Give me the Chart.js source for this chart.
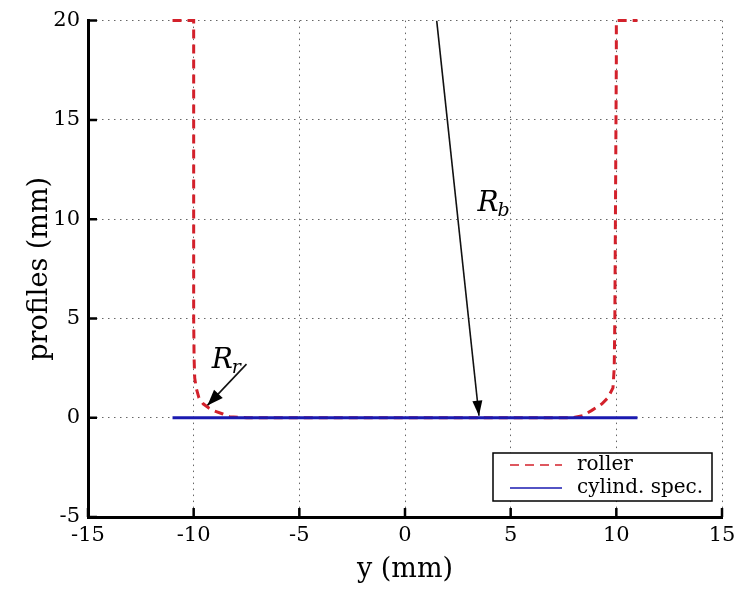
<!DOCTYPE html>
<html>
<head>
<meta charset="utf-8">
<style>
  html, body { margin: 0; padding: 0; background: #fff; }
  #wrap { width: 739px; height: 594px; }
</style>
<script src="https://cdn.jsdelivr.net/npm/chart.js@4/dist/chart.umd.min.js"></script>
</head>
<body>
<div id="wrap"><canvas id="c" width="739" height="594"></canvas></div>
<script>
// Roller profile (mm): lateral position y and profile height
const rollerY = [-11, -10, -10, -9.98, -9.95, -9.88, -9.75, -9.55, -9.3, -9.0, -8.65, -8.3, -7.5, 0, 7.5, 7.9, 8.4, 8.84, 9.32, 9.6, 9.84, 9.9, 9.93, 10, 10, 11];
const rollerP = [20, 20, 5, 3, 2, 1.5, 1.0, 0.7, 0.5, 0.33, 0.2, 0.05, 0, 0, 0, 0, 0.1, 0.37, 0.7, 1.0, 1.5, 2.5, 5, 18, 20, 20];

// Cylindrical specimen profile (mm)
const cylY = [-11, 11];
const cylP = [0, 0];

// Radius indicators: start and tip of each arrow, in data units
const arrowRbY = [1.5, 3.5];
const arrowRbP = [20, 0.1];
const arrowRrY = [-7.5, -9.35];
const arrowRrP = [2.7, 0.62];

// Radius labels: [main letter, subscript, y, profile]
const radiusLabels = [
  ['R', 'b', 3.43, 10.4],
  ['R', 'r', -9.15, 2.5]
];

// Axis ticks
const yTicks = [-15, -10, -5, 0, 5, 10, 15];
const profileTicks = [-5, 0, 5, 10, 15, 20];

const toPoints = (xs, ys) => xs.map((x, i) => ({ x: x, y: ys[i] }));

const RED = '#d3212b';
const BLUE = '#1a1ab0';
const SERIF = '"DejaVu Serif", "Liberation Serif", serif';

// Inward tick marks on the left and bottom axes
const inwardTicks = {
  id: 'inwardTicks',
  afterDraw(chart) {
    const { ctx, chartArea: a, scales: { x, y } } = chart;
    ctx.save();
    ctx.strokeStyle = '#000';
    ctx.lineWidth = 2.5;
    ctx.beginPath();
    x.ticks.forEach(t => {
      const px = x.getPixelForValue(t.value);
      ctx.moveTo(px, a.bottom);
      ctx.lineTo(px, a.bottom - 9);
    });
    y.ticks.forEach(t => {
      const py = y.getPixelForValue(t.value);
      ctx.moveTo(a.left, py);
      ctx.lineTo(a.left + 9, py);
    });
    ctx.stroke();
    ctx.restore();
  }
};

// Arrowheads at the tip of the arrow datasets, and the radius labels
const annotations = {
  id: 'annotations',
  afterDatasetsDraw(chart) {
    const { ctx, scales: { x, y } } = chart;
    ctx.save();
    chart.data.datasets.forEach((ds, i) => {
      if (!ds.arrow) return;
      const pts = chart.getDatasetMeta(i).data;
      const p0 = pts[pts.length - 2], p1 = pts[pts.length - 1];
      const ang = Math.atan2(p1.y - p0.y, p1.x - p0.x);
      const len = ds.headLength, half = ds.headHalf;
      ctx.fillStyle = '#000';
      ctx.beginPath();
      ctx.moveTo(p1.x, p1.y);
      ctx.lineTo(p1.x - len * Math.cos(ang) + half * Math.sin(ang), p1.y - len * Math.sin(ang) - half * Math.cos(ang));
      ctx.lineTo(p1.x - len * Math.cos(ang) - half * Math.sin(ang), p1.y - len * Math.sin(ang) + half * Math.cos(ang));
      ctx.closePath();
      ctx.fill();
    });
    ctx.fillStyle = '#000';
    ctx.textBaseline = 'alphabetic';
    ctx.textAlign = 'left';
    radiusLabels.forEach(([main, sub, vx, vy]) => {
      const px = x.getPixelForValue(vx), py = y.getPixelForValue(vy);
      ctx.font = 'italic 28px ' + SERIF;
      ctx.fillText(main, px, py);
      const w = ctx.measureText(main).width;
      ctx.font = 'italic 19px ' + SERIF;
      ctx.fillText(sub, px + w - 1, py + 5);
    });
    ctx.restore();
  }
};

// Boxed legend in the lower-right corner of the plot area
const boxLegend = {
  id: 'boxLegend',
  afterDraw(chart) {
    const { ctx, chartArea: a } = chart;
    const items = chart.data.datasets.filter(d => d.inLegend);
    const w = 219, h = 48;
    const right = a.right - 10, bottom = a.bottom - 16;
    const left = right - w, top = bottom - h;
    ctx.save();
    ctx.fillStyle = '#fff';
    ctx.fillRect(left, top, w, h);
    ctx.strokeStyle = '#000';
    ctx.lineWidth = 1.5;
    ctx.strokeRect(left, top, w, h);
    ctx.font = '20px ' + SERIF;
    ctx.textBaseline = 'middle';
    ctx.textAlign = 'left';
    items.forEach((d, i) => {
      const cy = top + 12 + i * 23;
      ctx.strokeStyle = d.borderColor;
      ctx.lineWidth = 1.6;
      ctx.setLineDash(d.borderDash || []);
      ctx.beginPath();
      ctx.moveTo(left + 17, cy);
      ctx.lineTo(left + 69, cy);
      ctx.stroke();
      ctx.setLineDash([]);
      ctx.fillStyle = '#000';
      ctx.fillText(d.label, left + 84, cy);
    });
    ctx.restore();
  }
};

Chart.defaults.color = '#000';
Chart.defaults.font.family = SERIF;

new Chart(document.getElementById('c'), {
  type: 'scatter',
  data: {
    datasets: [
      {
        label: 'R_b arrow',
        data: toPoints(arrowRbY, arrowRbP),
        showLine: true, borderColor: '#111', borderWidth: 1.6,
        pointRadius: 0, arrow: true, headLength: 15, headHalf: 5, order: 3
      },
      {
        label: 'R_r arrow',
        data: toPoints(arrowRrY, arrowRrP),
        showLine: true, borderColor: '#111', borderWidth: 1.6,
        pointRadius: 0, arrow: true, headLength: 16, headHalf: 6, order: 3
      },
      {
        label: 'roller',
        data: toPoints(rollerY, rollerP),
        showLine: true, borderColor: RED, borderWidth: 3,
        borderDash: [9, 6], pointRadius: 0, tension: 0,
        clip: false, inLegend: true, order: 2
      },
      {
        label: 'cylind. spec.',
        data: toPoints(cylY, cylP),
        showLine: true, borderColor: BLUE, borderWidth: 3,
        pointRadius: 0, inLegend: true, order: 1
      }
    ]
  },
  options: {
    responsive: false,
    animation: false,
    events: [],
    layout: { padding: { top: 17, right: 17, left: 0, bottom: 0 } },
    plugins: { legend: { display: false }, tooltip: { enabled: false } },
    scales: {
      x: {
        type: 'linear',
        min: -15, max: 15,
        afterBuildTicks: s => { s.ticks = yTicks.map(v => ({ value: v })); },
        afterFit: s => { s.height = 77; s.paddingLeft = 0; s.paddingRight = 0; },
        ticks: { font: { size: 21, family: SERIF }, padding: 6, color: '#000' },
        grid: { color: '#666', lineWidth: 1, drawTicks: false },
        border: { display: true, color: '#000', width: 3, dash: [1.5, 4.5] },
        title: { display: true, text: 'y (mm)', font: { size: 27, family: SERIF }, color: '#000', padding: { top: 0, bottom: 8 } }
      },
      y: {
        type: 'linear',
        min: -5, max: 20,
        afterBuildTicks: s => { s.ticks = profileTicks.map(v => ({ value: v })); },
        afterFit: s => { s.width = 88; },
        ticks: { font: { size: 21, family: SERIF }, padding: 8, color: '#000' },
        grid: { color: '#666', lineWidth: 1, drawTicks: false },
        border: { display: true, color: '#000', width: 3, dash: [1.5, 4.5] },
        title: { display: true, text: 'profiles (mm)', font: { size: 27, family: SERIF }, color: '#000', padding: { top: 24, bottom: 0 } }
      }
    }
  },
  plugins: [inwardTicks, annotations, boxLegend]
});
</script>
</body>
</html>
